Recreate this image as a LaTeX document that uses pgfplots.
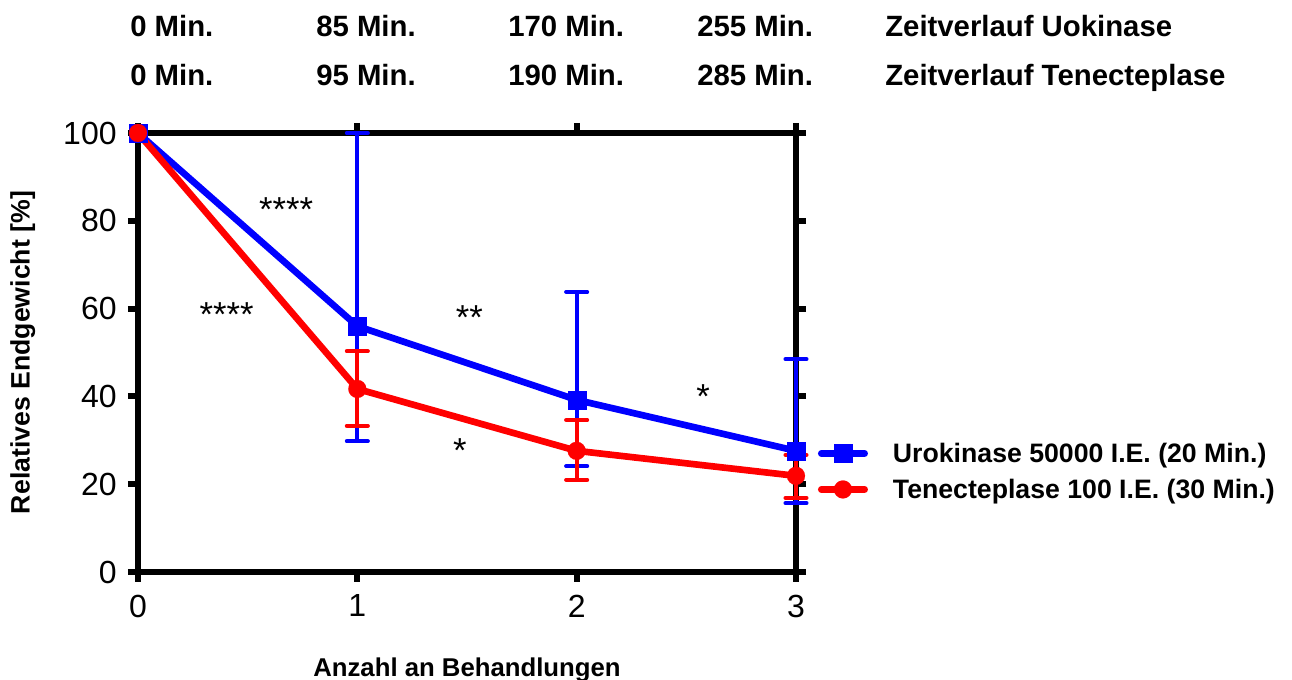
\documentclass[border=0pt]{standalone}
\usepackage{pgfplots}
\pgfplotsset{compat=1.18}
\usepackage{fontspec}
\setmainfont{Liberation Sans}
\definecolor{uroblue}{RGB}{0,0,255}
\definecolor{tnkred}{RGB}{255,0,0}

\begin{document}
\begin{tikzpicture}
\path[use as bounding box] (0,0) rectangle (969pt,510pt);
\begin{axis}[
  at={(103.5pt,81pt)}, anchor=south west,
  scale only axis, width=493.5pt, height=329.25pt,
  xmin=0, xmax=3, ymin=0, ymax=100,
  xtick={0,1,2,3}, ytick={0,20,...,100},
  minor tick num=0,
  xtick pos=both, ytick pos=both,
  xticklabel pos=lower, yticklabel pos=left,
  clip=false,
  axis line style={line width=4.5pt},
  tick align=outside, major tick length=7.5pt,
  every tick/.style={black, line width=4.5pt},
  tick label style={font=\fontsize{24}{28}\selectfont},
  /pgf/number format/assume math mode=true,
  xticklabel style={yshift=-6pt},
  yticklabel style={xshift=-5pt},
  xlabel={Anzahl an Behandlungen},
  ylabel={Relatives Endgewicht [\%]},
  xlabel style={font=\bfseries\fontsize{19.3}{23}\selectfont, at={(axis description cs:0.5,-0.222)}, anchor=center},
  ylabel style={font=\bfseries\fontsize{20}{24}\selectfont, at={(axis description cs:-0.175,0.5)}, anchor=center},
  legend style={at={(axis description cs:1.0334,0.229)}, anchor=west, draw=none, fill=none,
    inner sep=0pt, outer sep=0pt, row sep=11pt, column sep=18.75pt,
    font=\bfseries\fontsize{20}{24}\selectfont, nodes={inner sep=0pt, anchor=west}},
  legend image code/.code={\draw[mark repeat=2,mark phase=2,line cap=round] plot coordinates {(2.5pt,0pt)(18.75pt,0pt)(35pt,0pt)};},
  error bars/error mark=|,
]
% Urokinase: mean curve
\addplot[uroblue, line width=5pt, mark=square*, mark size=6.75pt, mark options={line width=0.1pt}]
  coordinates {(0,100) (1,56.0) (2,39.2) (3,27.6)};
\addlegendentry{Urokinase 50000 I.E. (20 Min.)}
% Urokinase: error bars
\addplot[uroblue, only marks, mark=none, forget plot,
  error bars/.cd, y dir=both, y explicit, error mark=|,
  error bar style={draw=uroblue, line width=3pt},
  error mark options={draw=uroblue, line width=3pt, mark size=7.9pt, line cap=round}]
  coordinates {
    (1,56.0) += (0,44.0) -= (0,26.2)
    (2,39.2) += (0,24.6) -= (0,15.1)
    (3,27.6) += (0,20.9) -= (0,11.9)
  };
% Tenecteplase: mean curve
\addplot[tnkred, line width=5pt, mark=*, mark size=6.75pt, mark options={line width=0.1pt}]
  coordinates {(0,100) (1,41.7) (2,27.6) (3,21.9)};
\addlegendentry{Tenecteplase 100 I.E. (30 Min.)}
% Tenecteplase: error bars
\addplot[tnkred, only marks, mark=none, forget plot,
  error bars/.cd, y dir=both, y explicit, error mark=|,
  error bar style={draw=tnkred, line width=3pt},
  error mark options={draw=tnkred, line width=3pt, mark size=7.9pt, line cap=round}]
  coordinates {
    (1,41.7) += (0,8.6) -= (0,8.4)
    (2,27.6) += (0,7.0) -= (0,6.6)
    (3,21.9) += (0,4.8) -= (0,5.0)
  };
% significance markers
\begin{scope}[every node/.style={inner sep=0pt, anchor=base, font=\fontsize{26}{30}\selectfont}]
\node at (axis cs:0.675,79.8) {****};
\node at (axis cs:0.404,55.9) {****};
\node at (axis cs:1.511,55.2) {**};
\node at (axis cs:1.468,24.9) {*};
\node at (axis cs:2.576,37.2) {*};
\end{scope}
\end{axis}
% time course header
\begin{scope}[every node/.style={inner sep=0pt, anchor=base west, font=\bfseries\fontsize{22}{26}\selectfont}]
\node at (97.5pt,482.25pt) {0 Min.};
\node at (237pt,482.25pt) {85 Min.};
\node at (381pt,482.25pt) {170 Min.};
\node at (522.75pt,482.25pt) {255 Min.};
\node at (663.75pt,482.25pt) {Zeitverlauf Uokinase};
\node at (97.5pt,445.5pt) {0 Min.};
\node at (237pt,445.5pt) {95 Min.};
\node at (381pt,445.5pt) {190 Min.};
\node at (522.75pt,445.5pt) {285 Min.};
\node at (663.75pt,445.5pt) {Zeitverlauf Tenecteplase};
\end{scope}
\end{tikzpicture}
\end{document}
